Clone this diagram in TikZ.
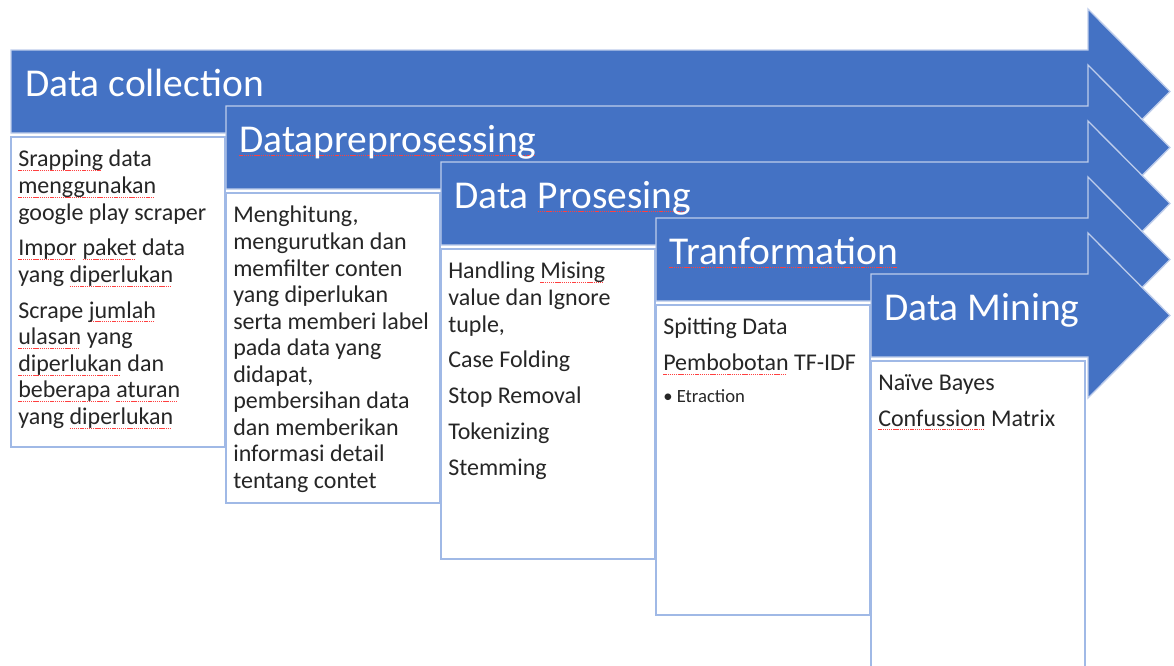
\documentclass[tikz,border=0pt]{standalone}
\usepackage{fontspec}
\setmainfont{Carlito}
\definecolor{stepblue}{RGB}{68,114,196}
\definecolor{edgeblue}{RGB}{190,205,235}
\definecolor{boxblue}{RGB}{160,185,230}
\definecolor{bodygray}{RGB}{38,38,38}
% red dotted line of the spell checker
\newsavebox{\splbox}
\newcommand{\spl}[1]{\sbox{\splbox}{#1}\rlap{\color{red!75}\leaders\hbox to 1.6pt{\rule[-3pt]{1pt}{0.6pt}\hss}\hskip\wd\splbox}\usebox{\splbox}}
\tikzset{
	steparrow/.style={fill=stepblue, draw=edgeblue, line width=1pt},
	stepbox/.style={fill=white, draw=boxblue, line width=1.2pt},
	steptitle/.style={anchor=base west, inner sep=0pt, text=white, font=\fontsize{29.6}{34}\selectfont},
	stepbody/.style={anchor=north west, inner sep=0pt, align=left, text=bodygray, font=\fontsize{18}{19.9}\selectfont}
}
\begin{document}
\begin{tikzpicture}[x=0.75pt, y=-0.75pt]
		\useasboundingbox (0,0) rectangle (1174,665);
		% Arrows, one per stage
		\foreach \i in {0,...,4}{
			\pgfmathsetmacro\xl{11+215*\i}
			\pgfmathsetmacro\yt{50+56*\i}
			\draw [steparrow] (\xl,\yt) -- (1088,\yt) -- (1088,\yt-41) -- (1170,\yt+41.5)
				-- (1088,\yt+124) -- (1088,\yt+83) -- (\xl,\yt+83) -- cycle;
		}
		% Boxes under the arrows
		\foreach \i in {0,...,4}
			\draw [stepbox] ({11+215*\i},{137+56*\i}) rectangle ++(214,310);
		% Titles
		\node [steptitle] (t1) at (25,96)  {Data collection};
		\node [steptitle] (t2) at (239,152) {\spl{Datapreprosessing}};
		\node [steptitle] (t3) at (454,208) {Data \spl{Prosesing}};
		\node [steptitle] (t4) at (669,264) {\spl{Tranformation}};
		\node [steptitle] (t5) at (884,320) {Data Mining};
		% Texts in the boxes
		\node [stepbody] (b1) at (18,150) {\spl{Srapping} data\\ \spl{menggunakan}\\ google play scraper\\[7pt]
			\spl{Impor} \spl{paket} data\\ yang \spl{diperlukan}\\[7pt]
			Scrape \spl{jumlah}\\ \spl{ulasan} yang\\ \spl{diperlukan} dan\\ \spl{beberapa} \spl{aturan}\\ yang \spl{diperlukan}};
		\node [stepbody] (b2) at (233,206) {Menghitung,\\ mengurutkan dan\\ memfilter conten\\ yang diperlukan\\
			serta memberi label\\ pada data yang\\ didapat,\\ pembersihan data\\ dan memberikan\\ informasi detail\\ tentang contet};
		\node [stepbody] (b3) at (448,262) {Handling \spl{Mising}\\ value dan Ignore\\ tuple,\\[7pt]
			Case Folding\\[7pt] Stop Removal\\[7pt] Tokenizing\\[7pt] Stemming};
		\node [stepbody] (b4) at (663,318) {Spitting Data\\[7pt] \spl{Pembobotan} TF-IDF\\[4pt]
			{\fontsize{14}{16}\selectfont\textbullet\ Etraction}};
		\node [stepbody] (b5) at (878,374) {Naïve Bayes\\[7pt] \spl{Confussion} Matrix};
	\end{tikzpicture}
\end{document}
